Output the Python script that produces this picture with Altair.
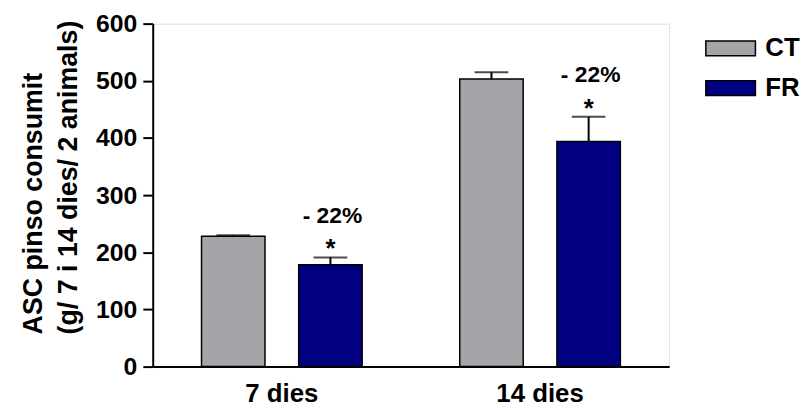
import altair as alt
import pandas as pd

groups = ["7 dies", "14 dies"]
series = ["CT", "FR"]
colors = ["#A5A4A9", "#000080"]
ct_mean = [228, 503]
fr_mean = [178, 394]
ct_err = [230, 515]
fr_err = [191, 437]
annot_group = ["7 dies", "14 dies"]
annot_series = ["FR", "FR"]
annot_pct = ["- 22%", "- 22%"]
annot_star = ["*", "*"]
y_ticks = [0, 100, 200, 300, 400, 500, 600]

rows = []
for i, g in enumerate(groups):
    rows.append({"group": g, "series": "CT", "mean": ct_mean[i], "err": ct_err[i]})
    rows.append({"group": g, "series": "FR", "mean": fr_mean[i], "err": fr_err[i]})
df = pd.DataFrame(rows)

ann = pd.DataFrame({
    "group": annot_group,
    "series": annot_series,
    "pct": annot_pct,
    "star": annot_star,
    "err": [fr_err[groups.index(g)] for g in annot_group],
})

FONT = "Liberation Sans"

x_enc = alt.X(
    "group:N", sort=groups,
    scale=alt.Scale(paddingInner=0.378, paddingOuter=0.189),
    axis=alt.Axis(title=None, ticks=False, labelFontSize=26, labelFontWeight="bold",
                  labelPadding=14, labelAngle=0, domainColor="black", domainWidth=2,
                  labelColor="black", labelFont=FONT),
)
xo_enc = alt.XOffset("series:N", sort=series,
                     scale=alt.Scale(paddingInner=0.347, paddingOuter=0))

y_scale = alt.Scale(domain=[0, 600], nice=False)

bars = alt.Chart(df).mark_bar(stroke="black", strokeWidth=1.5).encode(
    x=x_enc,
    xOffset=xo_enc,
    y=alt.Y("mean:Q", scale=y_scale,
            axis=alt.Axis(values=y_ticks, grid=False, title=["ASC pinso consumit", "(g/ 7 i 14 dies/ 2 animals)"],
                          titleFontSize=27, titleFontWeight="bold", titleFont=FONT, titleColor="black",
                          titleAngle=270, titleAlign="left", titleBaseline="alphabetic",
                          titleX=-112, titleY=313, titleLineHeight=35,
                          labelFontSize=25, labelFontWeight="bold", labelFont=FONT, labelColor="black",
                          labelPadding=6, tickSize=10, tickWidth=2, tickColor="black",
                          domainColor="black", domainWidth=2)),
    color=alt.Color("series:N", sort=series,
                    scale=alt.Scale(domain=series, range=colors),
                    legend=alt.Legend(title=None, orient="none", legendX=557, legendY=-1,
                                      symbolType="M-1,-0.3H1V0.3H-1Z", symbolSize=2500,
                                      symbolStrokeColor="black", symbolStrokeWidth=1.5,
                                      labelFontSize=26, labelFontWeight="bold", labelFont=FONT,
                                      labelColor="black", labelOffset=9, rowPadding=1)),
)

rule = alt.Chart(df).mark_rule(color="black", strokeWidth=2).encode(
    x=alt.X("group:N", sort=groups), xOffset=alt.XOffset("series:N", sort=series),
    y=alt.Y("mean:Q"), y2="err:Q",
)

cap = alt.Chart(df).mark_tick(color="black", thickness=2, size=34, orient="horizontal").encode(
    x=alt.X("group:N", sort=groups), xOffset=alt.XOffset("series:N", sort=series),
    y=alt.Y("err:Q"),
)

pct = alt.Chart(ann).mark_text(fontSize=23, fontWeight="bold", font=FONT, color="black",
                               baseline="alphabetic", dy=-35, dx=2).encode(
    x=alt.X("group:N", sort=groups), xOffset=alt.XOffset("series:N", sort=series),
    y=alt.Y("err:Q"), text="pct:N",
)

star = alt.Chart(ann).mark_text(fontSize=26, fontWeight="bold", font=FONT, color="black",
                                baseline="alphabetic", dy=0).encode(
    x=alt.X("group:N", sort=groups), xOffset=alt.XOffset("series:N", sort=series),
    y=alt.Y("err:Q"), text="star:N",
)

chart = alt.layer(bars, rule, cap, pct, star).properties(
    width=521, height=346,
    autosize="none",
    padding={"left": 146, "top": 14, "right": 134, "bottom": 40},
).configure_view(stroke=None).configure(font=FONT)

chart.save("out.html", embed_options={"renderer": "svg", "actions": False})
